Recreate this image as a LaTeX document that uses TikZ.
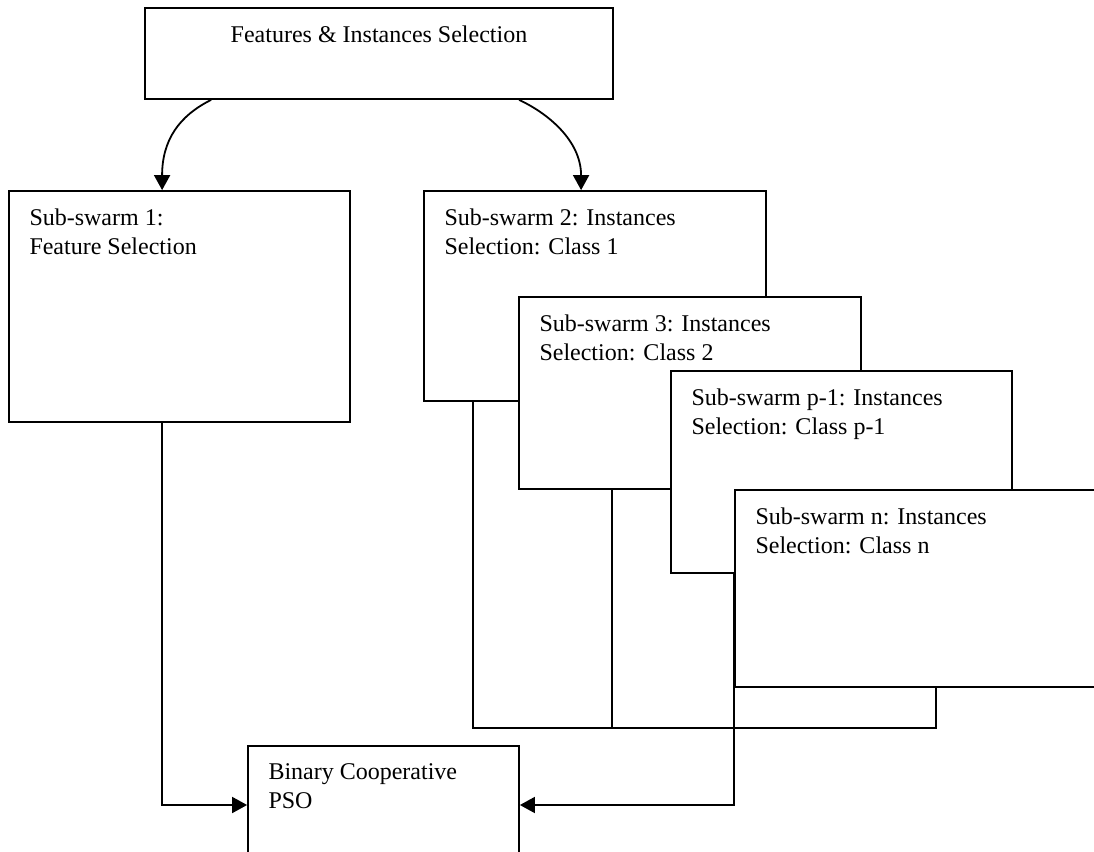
\documentclass[tikz,border=0pt]{standalone}
\usepackage{fontspec}
\setmainfont{Liberation Serif}
\usetikzlibrary{arrows.meta}
\usetikzlibrary{calc}
\usetikzlibrary{fit}

\begin{document}
\begin{tikzpicture}[x=0.5pt, y=-0.5pt,
    boxframe/.style={draw, fill=white, line width=0.9pt, inner sep=0pt},
    boxlabel/.style={anchor=north west, inner sep=0pt, align=left, font=\fontsize{12pt}{14.5pt}\selectfont},
    link/.style={line width=0.9pt},
    flow/.style={link, -{Triangle[length=7.5pt, width=8pt]}}]
              \useasboundingbox (0,0) rectangle (1094,852);
              \newcommand{\swarmbox}[4]
              {%
                \node[boxframe, fit={#2 #3}] (#1) {};
                \node[boxlabel] (#1txt) at ($(#1.north west)+(21,18)$) {#4};
              }%
              \node[boxframe, fit={(145,8) (613,99)}] (select) {};
              \node[boxlabel, anchor=north] (selecttxt) at ($(select.north)+(0,18)$) {Features \& Instances Selection};
              \swarmbox{sw1}{(9,191)}{(350,422)}{Sub-swarm 1:\\Feature Selection}
              \swarmbox{sw2}{(424,191)}{(766,401)}{Sub-swarm 2: Instances\\Selection: Class 1}
              \swarmbox{sw3}{(519,297)}{(861,489)}{Sub-swarm 3: Instances\\Selection: Class 2}
              \swarmbox{swp}{(671,371)}{(1012,573)}{Sub-swarm p-1: Instances\\Selection: Class p-1}
              \swarmbox{swn}{(735,490)}{(1110,687)}{Sub-swarm n: Instances\\Selection: Class n}
              \swarmbox{pso}{(248,746)}{(519,864)}{Binary Cooperative\\PSO}
              \draw[flow] ($(select.south west)+(67,0)$) .. controls +(-32,16) and +(0,-50) .. ($(sw1.north west)+(154,0)$);
              \draw[flow] ($(select.south west)+(375,0)$) .. controls +(28,13) and +(0,-50) .. ($(sw2.north west)+(158,0)$);
              \draw[flow] ($(sw1.south west)+(154,0)$) |- (pso.west);
              \draw[flow] (swp.south -| swn.west) |- (pso.east);
              \coordinate (drop2) at ($(sw2.south west)+(50,0)$);
              \coordinate (drop3) at ($(sw3.south west)+(94,0)$);
              \coordinate (dropn) at ($(swn.south west)+(202,0)$);
              \coordinate (bus) at ($(dropn)+(0,40)$);
              \draw[link] (drop2) |- (bus) -- (dropn);
              \draw[link] (drop3) -- (drop3 |- bus);
            \end{tikzpicture}
\end{document}
